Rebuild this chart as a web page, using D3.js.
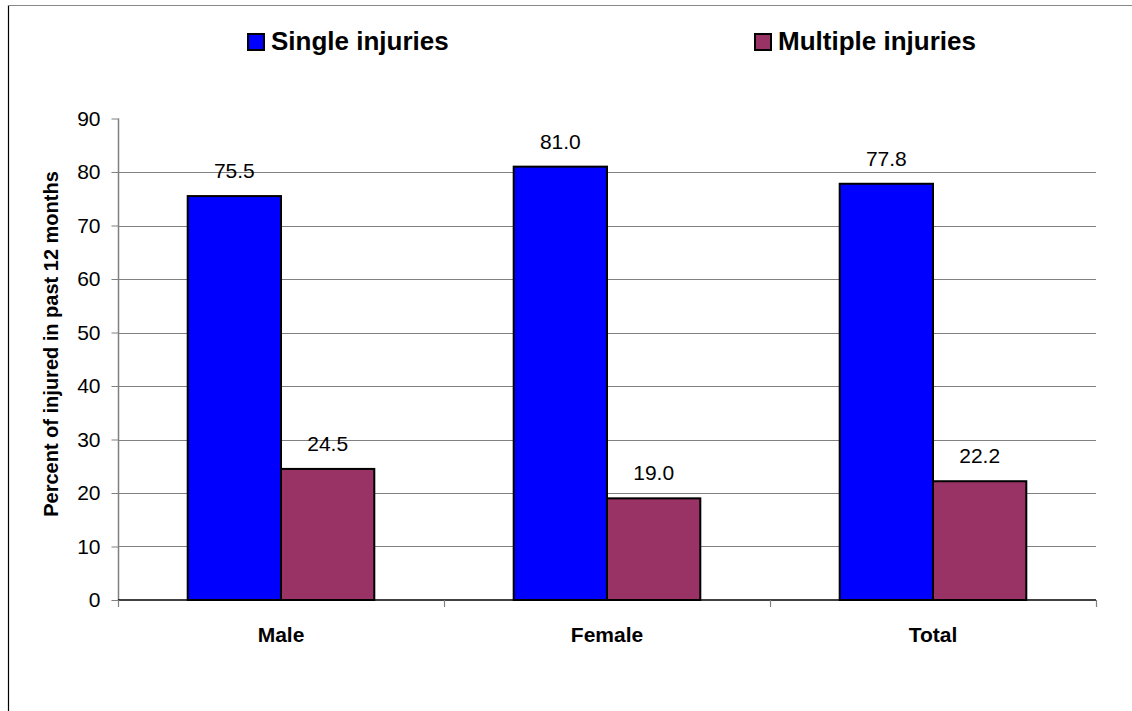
<!DOCTYPE html>
<html>
<head>
<meta charset="utf-8">
<script src="https://cdn.jsdelivr.net/npm/d3@7"></script>
<style>
  html, body { margin: 0; padding: 0; background: #fff; }
  svg { display: block; }
  text { font-family: "Liberation Sans", Arial, sans-serif; fill: #000; }
</style>
</head>
<body>
<svg id="chart" width="1132" height="711"></svg>
<script>
// Injured in the past 12 months, by sex: share with single vs. multiple injuries
const categories = ["Male", "Female", "Total"];
const seriesNames = ["Single injuries", "Multiple injuries"];
const singleInjuries = [75.5, 81.0, 77.8];
const multipleInjuries = [24.5, 19.0, 22.2];
const yTicks = [0, 10, 20, 30, 40, 50, 60, 70, 80, 90];
const seriesColors = ["#0000FF", "#993366"];

const values = [singleInjuries, multipleInjuries];
const svg = d3.select("#chart");

const plot = { left: 118, right: 1096, top: 118.5, bottom: 600 };

const x0 = d3.scaleBand().domain(categories).range([plot.left, plot.right]).padding(0);
const x1 = d3.scaleBand().domain(seriesNames).range([0, x0.bandwidth()])
  .paddingInner(0).paddingOuter(0.747);
const y = d3.scaleLinear().domain([0, 90]).range([plot.bottom, plot.top]);

// outer frame (left and top edges are within view)
svg.append("line").attr("x1", 8.5).attr("x2", 8.5).attr("y1", 5).attr("y2", 711)
  .attr("stroke", "#000").attr("stroke-width", 1.2);
svg.append("line").attr("x1", 8).attr("x2", 1132).attr("y1", 5.5).attr("y2", 5.5)
  .attr("stroke", "#888").attr("stroke-width", 1);

// horizontal gridlines
svg.append("g").selectAll("line")
  .data(yTicks.filter(t => t > 0 && t < 90))
  .join("line")
  .attr("x1", plot.left).attr("x2", plot.right)
  .attr("y1", d => Math.round(y(d)) + 0.5).attr("y2", d => Math.round(y(d)) + 0.5)
  .attr("stroke", "#808080").attr("stroke-width", 1);

// y axis
const yAxis = svg.append("g")
  .attr("transform", `translate(${plot.left + 0.5},0)`)
  .call(d3.axisLeft(y).tickValues(yTicks).tickSize(7).tickPadding(11).tickFormat(d3.format("d")));
yAxis.select(".domain").attr("stroke", "#808080").attr("stroke-width", 1.5)
  .attr("d", `M0,${plot.top}V${plot.bottom}`);
yAxis.selectAll(".tick line").attr("stroke", "#808080");
yAxis.selectAll(".tick text")
  .style("font-family", "'Liberation Sans', Arial, sans-serif")
  .style("font-size", "21px").attr("fill", "#000");

// bars
const groups = svg.append("g").selectAll("g")
  .data(categories)
  .join("g")
  .attr("transform", d => `translate(${x0(d)},0)`);

groups.selectAll("rect")
  .data((c, i) => seriesNames.map((s, j) => ({ s, j, v: values[j][i] })))
  .join("rect")
  .attr("x", d => x1(d.s))
  .attr("width", x1.bandwidth())
  .attr("y", d => y(d.v))
  .attr("height", d => y(0) - y(d.v))
  .attr("fill", d => seriesColors[d.j])
  .attr("stroke", "#000").attr("stroke-width", 2);

// value labels
groups.selectAll("text.val")
  .data((c, i) => seriesNames.map((s, j) => ({ s, j, v: values[j][i] })))
  .join("text")
  .attr("class", "val")
  .attr("x", d => x1(d.s) + x1.bandwidth() / 2)
  .attr("y", d => y(d.v) - 18)
  .attr("text-anchor", "middle")
  .style("font-size", "21px")
  .text(d => d.v.toFixed(1));

// x axis
const xAxis = svg.append("g")
  .attr("transform", `translate(0,${plot.bottom})`);
xAxis.append("line").attr("x1", plot.left).attr("x2", plot.right)
  .attr("y1", 0).attr("y2", 0).attr("stroke", "#000").attr("stroke-width", 1.5);
const boundaries = categories.map(c => x0(c)).concat([x0(categories[categories.length - 1]) + x0.bandwidth()]);
xAxis.selectAll("line.tk").data(boundaries).join("line")
  .attr("class", "tk")
  .attr("x1", d => d + 0.5).attr("x2", d => d + 0.5)
  .attr("y1", 0).attr("y2", 7)
  .attr("stroke", "#808080").attr("stroke-width", 1.2);
xAxis.selectAll("text").data(categories).join("text")
  .attr("x", d => x0(d) + x0.bandwidth() / 2)
  .attr("y", 42)
  .attr("text-anchor", "middle")
  .style("font-size", "21px").style("font-weight", "bold")
  .text(d => d);

// y axis title
svg.append("text")
  .attr("transform", `translate(58,344) rotate(-90)`)
  .attr("text-anchor", "middle")
  .style("font-size", "20px").style("font-weight", "bold")
  .text("Percent of injured in past 12 months");

// legend
const legendX = [248, 755];
const legend = svg.append("g").selectAll("g")
  .data(seriesNames)
  .join("g")
  .attr("transform", (d, i) => `translate(${legendX[i]},34)`);
legend.append("rect")
  .attr("x", 0).attr("y", 0).attr("width", 16).attr("height", 16)
  .attr("fill", (d, i) => seriesColors[i])
  .attr("stroke", "#000").attr("stroke-width", 2);
legend.append("text")
  .attr("x", 23).attr("y", 16)
  .style("font-size", "26px").style("font-weight", "bold")
  .text(d => d);
</script>
</body>
</html>
